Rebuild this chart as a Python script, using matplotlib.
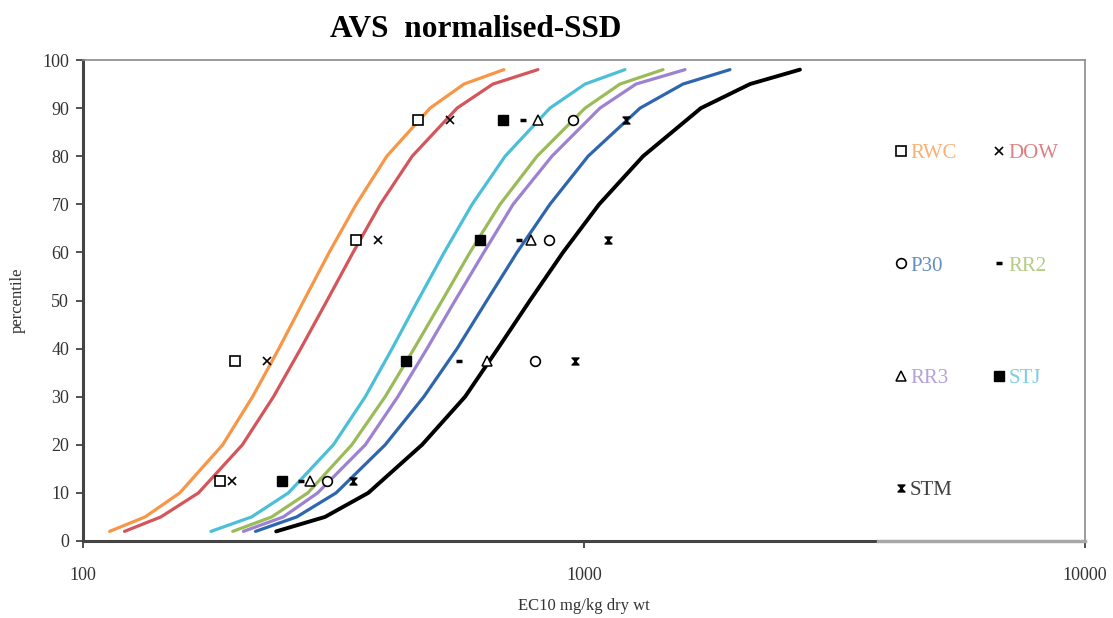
import numpy as np
import matplotlib
matplotlib.use("Agg")
import matplotlib.pyplot as plt
from matplotlib.path import Path

# --- data ---
SITES = ["RWC", "DOW", "STJ", "RR2", "RR3", "P30", "STM"]
COLORS = {"RWC": "#F79646", "DOW": "#D4555A", "STJ": "#4BBFD8", "RR2": "#9BBB59",
          "RR3": "#9C82D0", "P30": "#2E66AE", "STM": "#000000"}

# fitted curves: percentile vs EC10 (mg/kg)
CURVE_PCT = [2, 5, 10, 20, 30, 40, 50, 60, 70, 80, 90, 95, 98]
curve_rwc = [113, 133, 156, 190, 218, 246, 276, 310, 351, 404, 493, 576, 692]
curve_dow = [121, 143, 170, 208, 240, 272, 307, 346, 392, 454, 558, 658, 809]
curve_stj = [180, 217, 257, 316, 366, 414, 466, 526, 598, 696, 855, 1005, 1207]
curve_rr2 = [199, 238, 281, 344, 401, 458, 521, 592, 680, 806, 1005, 1180, 1438]
curve_rr3 = [209, 251, 294, 366, 425, 486, 553, 631, 722, 863, 1076, 1270, 1591]
curve_p30 = [221, 267, 320, 401, 479, 558, 640, 735, 855, 1019, 1294, 1576, 1956]
curve_stm = [243, 304, 371, 475, 579, 673, 780, 908, 1072, 1312, 1712, 2145, 2698]

# measured points
POINT_PCT = [12.5, 37.5, 62.5, 87.5]
pts_rwc = [188, 201, 351, 466]
pts_dow = [198, 233, 388, 540]
pts_stj = [250, 441, 620, 689]
pts_rr2 = [272, 563, 742, 755]
pts_rr3 = [284, 640, 784, 809]
pts_p30 = [307, 798, 851, 951]
pts_stm = [346, 960, 1117, 1213]

curves = dict(zip(SITES, [curve_rwc, curve_dow, curve_stj, curve_rr2, curve_rr3, curve_p30, curve_stm]))
points = dict(zip(SITES, [pts_rwc, pts_dow, pts_stj, pts_rr2, pts_rr3, pts_p30, pts_stm]))

# hourglass-ish "star" marker used for STM
star = Path([(-1, 1), (1, 1), (-1, -1), (1, -1), (-1, 1)],
            [Path.MOVETO, Path.LINETO, Path.LINETO, Path.LINETO, Path.CLOSEPOLY])
MARKERS = {
    "RWC": dict(marker="s", mfc="white", mec="black", ms=7, mew=1.2),
    "DOW": dict(marker="x", mec="black", ms=6, mew=1.2),
    "STJ": dict(marker="s", mfc="black", mec="black", ms=7),
    "RR2": dict(marker="_", mec="black", ms=5, mew=2.5),
    "RR3": dict(marker="^", mfc="white", mec="black", ms=7, mew=1.1),
    "P30": dict(marker="o", mfc="white", mec="black", ms=7, mew=1.2),
    "STM": dict(marker=star, mfc="black", mec="black", ms=5, mew=1.0),
}

plt.rcParams["font.family"] = ["Liberation Serif", "DejaVu Serif"]

fig = plt.figure(figsize=(11.13, 6.18), dpi=100)
ax = fig.add_axes([0.0746, 0.1246, 0.9002, 0.7783])

for s in SITES:
    ax.plot(curves[s], CURVE_PCT, color=COLORS[s], lw=2.3 if s != "STM" else 2.8,
            solid_capstyle="round", zorder=2)

handles = {}
for s in SITES:
    h, = ax.plot(points[s], POINT_PCT, linestyle="none", zorder=3, **MARKERS[s])
    handles[s] = h

ax.set_xscale("log")
ax.set_xlim(100, 10000)
ax.set_ylim(0, 100)
ax.set_yticks(np.arange(0, 101, 10))
ax.set_xticks([100, 1000, 10000])
ax.set_xticklabels(["100", "1000", "10000"])
ax.minorticks_off()
ax.tick_params(axis="both", direction="out", length=5, width=1.2, labelsize=13,
               colors="#333333", labelcolor="#333333")
ax.tick_params(axis="x", pad=14)
ax.tick_params(axis="y", pad=5)

for side in ["top", "right"]:
    ax.spines[side].set_color("#8a8a8a")
    ax.spines[side].set_linewidth(1.2)
for side in ["left", "bottom"]:
    ax.spines[side].set_color("#444444")
    ax.spines[side].set_linewidth(2.2)
# lighter stretch at the right end of the x axis line, as in the original
ax.plot([0.793, 1.0], [0, 0], transform=ax.transAxes, color="#a8a8a8", lw=2.4,
        clip_on=False, zorder=5)

# legend: two columns, markers in black, labels in site colours
order = ["RWC", "P30", "RR3", "STM", "DOW", "RR2", "STJ"]
leg = ax.legend([handles[s] for s in order], order, ncol=2, frameon=False,
                loc="upper left", bbox_to_anchor=(0.791, 0.865),
                labelspacing=4.45, columnspacing=1.75, handlelength=0.6,
                handletextpad=0.15, fontsize=15,
                labelcolor=[COLORS[s] for s in order])
for t in leg.get_texts():
    t.set_alpha(0.75)

ax.set_xlabel("EC10 mg/kg dry wt", fontsize=12, color="#333333", labelpad=10)
ax.set_ylabel("percentile", fontsize=12, color="#333333", labelpad=12)
fig.text(0.427, 0.952, "AVS  normalised-SSD", ha="center", va="center",
         fontsize=22.5, fontweight="bold")

fig.savefig("out.png", dpi=100)
